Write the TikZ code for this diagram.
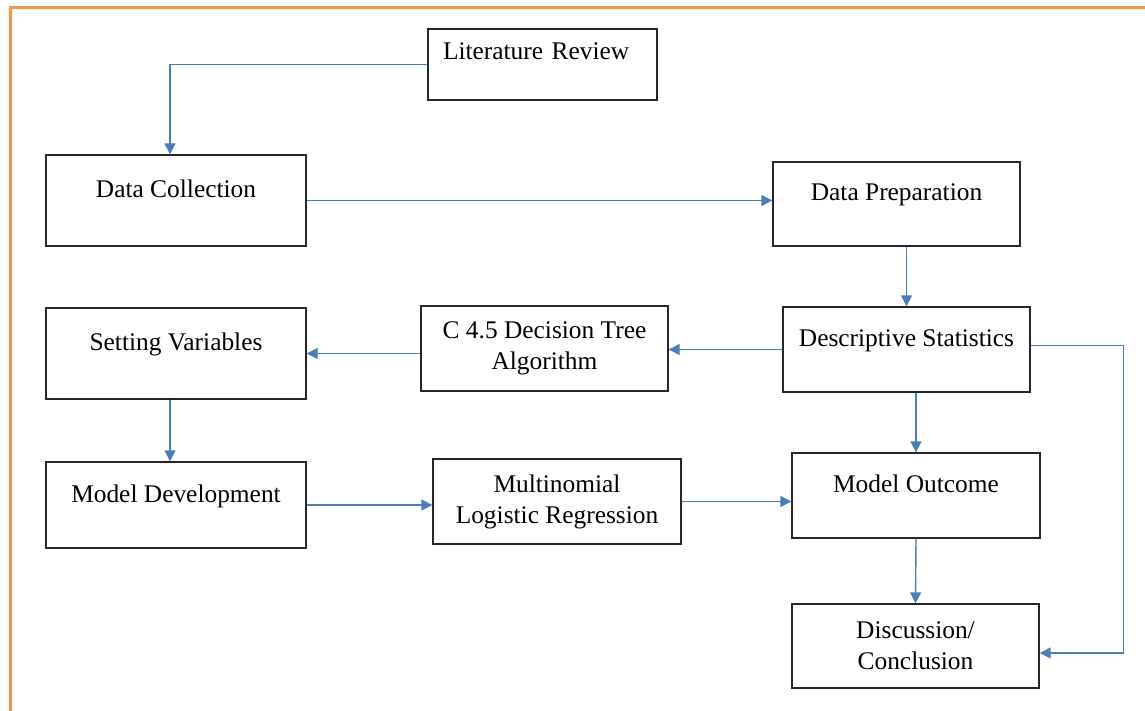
\documentclass[tikz,border=0pt]{standalone}
\usepackage{fontspec}
\setmainfont{Liberation Serif}
\usetikzlibrary{arrows.meta}
\definecolor{flowblue}{HTML}{4A7EBB}
\definecolor{frameorange}{HTML}{F79646}

\tikzset{
  box/.style={draw=black!85, line width=0.7pt, inner sep=0pt, align=center,
    font=\fontsize{12.7}{15.5}\selectfont},
  oneline/.style={text height=8.5pt, text depth=11.5pt},
  flow/.style={draw=flowblue, line width=0.7pt, -{Triangle[length=5.5pt,width=5.5pt]}},
}

\begin{document}
\begin{tikzpicture}[x=0.5pt, y=-0.5pt]
  \useasboundingbox (0,0) rectangle (1145,711);
  % frame
  \draw[frameorange, line width=1.5pt] (10.5,711) -- (10.5,7.5) -- (1145,7.5);
  % Define nodes
  \node[box, oneline, text depth=13pt, minimum width=114.5pt, minimum height=35.5pt,
    align=left, text width=99.5pt, inner xsep=7.5pt] (lit) at (542.5,64.5) {Literature Review};
  \node[box, oneline, minimum width=130pt, minimum height=45.5pt] (dc) at (176,200.5) {Data Collection};
  \node[box, oneline, minimum width=123.5pt, minimum height=42pt] (dp) at (896.5,204) {Data Preparation};
  \node[box, oneline, minimum width=123.5pt, minimum height=42.5pt] (ds) at (906.5,349.5) {Descriptive Statistics};
  \node[box, minimum width=123.5pt, minimum height=42.5pt] (c45) at (544.5,348.5) {C 4.5 Decision Tree\\Algorithm};
  \node[box, oneline, minimum width=130pt, minimum height=45.5pt] (sv) at (176,353.5) {Setting Variables};
  \node[box, oneline, minimum width=130pt, minimum height=43pt] (md) at (176,505) {Model Development};
  \node[box, minimum width=124pt, minimum height=42.5pt] (mlr) at (557,501.5) {Multinomial\\Logistic Regression};
  \node[box, oneline, minimum width=124pt, minimum height=42.5pt] (mo) at (916,495.5) {Model Outcome};
  \node[box, minimum width=123.5pt, minimum height=42pt] (disc) at (915.5,646) {Discussion/\\Conclusion};
  % Define edges
  \draw[flow] (lit.west) -| ([xshift=-3pt]dc.north);
  \draw[flow] (dc.east) -- (dc.east -| dp.west);
  \draw[flow] (dp.south -| ds.north) -- (ds.north);
  \draw[flow] (ds.west) -- (ds.west -| c45.east);
  \draw[flow] (sv.east -| c45.west) -- (sv.east);
  \draw[flow] ([xshift=-3pt]sv.south) -- ([xshift=-3pt]md.north);
  \draw[flow] (md.east) -- (md.east -| mlr.west);
  \draw[flow] (mlr.east) -- (mlr.east -| mo.west);
  \draw[flow] (ds.south -| mo.north) -- (mo.north);
  \draw[flow] (mo.south) -- (disc.north);
  \draw[flow] ([yshift=2pt]ds.east) -- ++(93,0) |- ([yshift=-3.5pt]disc.east);
\end{tikzpicture}
\end{document}
